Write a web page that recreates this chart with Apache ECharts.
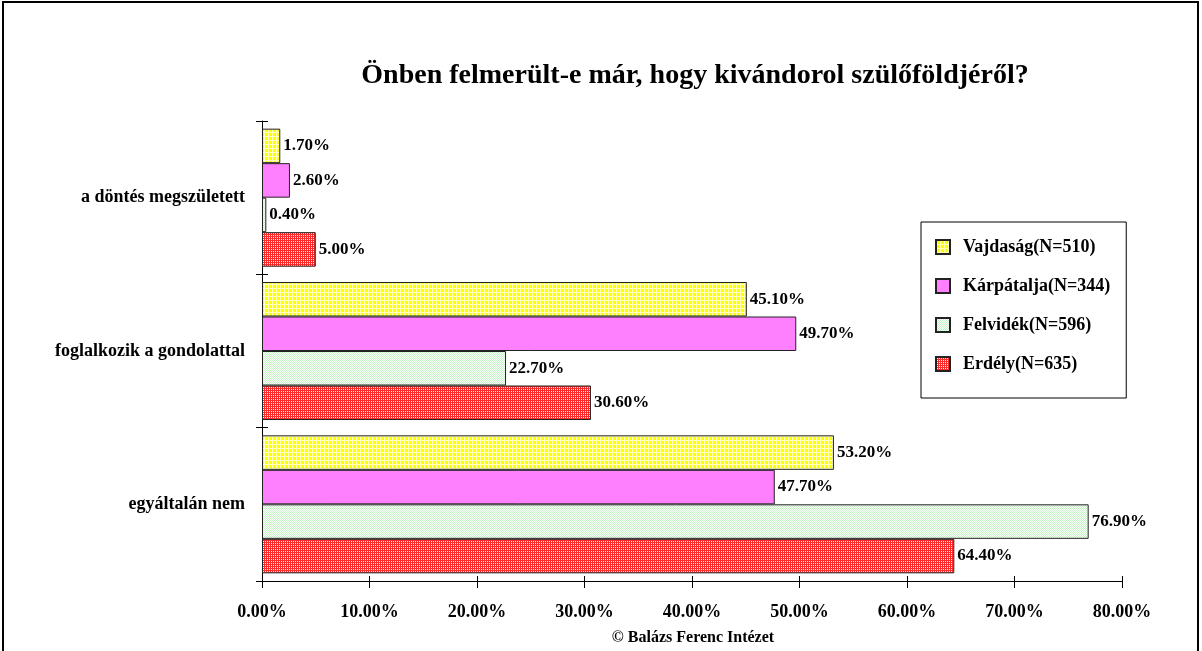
<!DOCTYPE html>
<html>
<head>
<meta charset="utf-8">
<script src="https://cdn.jsdelivr.net/npm/echarts@6/dist/echarts.min.js"></script>
<style>
  html, body { margin: 0; padding: 0; background: #fff; }
  #chart { width: 1202px; height: 651px; }
</style>
</head>
<body>
<div id="chart"></div>
<script>
// kategóriák (alulról felfelé)
var categories = ['egyáltalán nem', 'foglalkozik a gondolattal', 'a döntés megszületett'];
// sorozatok (a csoporton belül fentről lefelé)
var seriesNames = ['Vajdaság(N=510)', 'Kárpátalja(N=344)', 'Felvidék(N=596)', 'Erdély(N=635)'];
var vajdasag = [53.2, 45.1, 1.7];
var karpatalja = [47.7, 49.7, 2.6];
var felvidek = [76.9, 22.7, 0.4];
var erdely = [64.4, 30.6, 5.0];
var xTicks = [0, 10, 20, 30, 40, 50, 60, 70, 80];

var FONT = '"Liberation Serif", "Times New Roman", serif';

// minták
function pattern(size, bg, fg, pixels) {
	var c = document.createElement('canvas');
	c.width = size;
	c.height = size;
	var ctx = c.getContext('2d');
	ctx.fillStyle = bg;
	ctx.fillRect(0, 0, size, size);
	ctx.fillStyle = fg;
	pixels.forEach(function (p) { ctx.fillRect(p[0], p[1], p[2] || 1, p[3] || 1); });
	return { image: c, repeat: 'repeat' };
}

var yellowPat = pattern(4, '#ffff00', '#ffffc0', [[0, 0, 4, 1], [0, 0, 1, 4]]);
var greenPat = pattern(2, '#ffffff', '#c4f4c4', [[0, 0], [1, 1]]);
var redPat = pattern(4, '#ff2a2a', '#ffffff', [[1, 1], [3, 3], [1, 3], [3, 1]]);
var colors = [yellowPat, '#ff80ff', greenPat, redPat];
var dataSets = [vajdasag, karpatalja, felvidek, erdely];

var chart = echarts.init(document.getElementById('chart'));

var series = seriesNames.map(function (name, i) {
	return {
		name: name,
		type: 'bar',
		xAxisIndex: 0,
		yAxisIndex: 0,
		data: dataSets[i],
		barGap: '0%',
		barCategoryGap: '10%',
		itemStyle: {
			color: colors[i],
			borderColor: '#222',
			borderWidth: 1
		},
		label: {
			show: true,
			position: 'right',
			distance: 3,
			color: '#000',
			fontFamily: FONT,
			fontWeight: 'bold',
			fontSize: 17,
			formatter: function (p) { return p.value.toFixed(2) + '%'; }
		}
	};
});

var axisText = { color: '#000', fontFamily: FONT, fontWeight: 'bold', fontSize: 18 };

chart.setOption({
	animation: false,
	backgroundColor: '#fff',
	grid: { left: 262, right: 80, top: 121, bottom: 70, containLabel: false },
	legend: {
		orient: 'vertical',
		left: 921,
		top: 222,
		data: seriesNames,
		icon: 'rect',
		itemWidth: 14,
		itemHeight: 14,
		itemGap: 21,
		padding: [16, 16, 25, 14],
		borderColor: '#000',
		borderWidth: 1,
		textStyle: Object.assign({ padding: [0, 0, 0, 8] }, axisText)
	},
	xAxis: [{
		type: 'value',
		min: xTicks[0],
		max: xTicks[xTicks.length - 1],
		interval: xTicks[1] - xTicks[0],
		axisLine: { show: true, lineStyle: { color: '#000', width: 1 } },
		axisTick: { show: true, length: 7, lineStyle: { color: '#000' } },
		splitLine: { show: false },
		axisLabel: Object.assign({ margin: 22, formatter: function (v) { return v.toFixed(2) + '%'; } }, axisText)
	}, {
		type: 'value',
		position: 'bottom',
		min: xTicks[0],
		max: xTicks[xTicks.length - 1],
		interval: xTicks[1] - xTicks[0],
		axisLine: { show: false },
		axisTick: { show: true, inside: true, length: 5, lineStyle: { color: '#000' } },
		splitLine: { show: false },
		axisLabel: { show: false }
	}],
	yAxis: [{
		type: 'category',
		data: categories,
		axisLine: { show: true, lineStyle: { color: '#000', width: 1 } },
		axisTick: { show: true, length: 6, lineStyle: { color: '#000' } },
		axisLabel: Object.assign({ margin: 17 }, axisText)
	}, {
		type: 'category',
		position: 'left',
		data: categories,
		axisLine: { show: false },
		axisTick: { show: true, inside: true, length: 6, lineStyle: { color: '#000' } },
		axisLabel: { show: false }
	}],
	series: series,
	graphic: [
		{
			type: 'rect',
			shape: { x: 3, y: 2, width: 1195, height: 700 },
			style: { fill: 'none', stroke: '#000', lineWidth: 2 },
			silent: true
		},
		{
			type: 'text',
			x: 695,
			y: 76,
			style: {
				text: 'Önben felmerült-e már, hogy kivándorol szülőföldjéről?',
				fontFamily: FONT,
				fontWeight: 'bold',
				fontSize: 28,
				fill: '#000',
				textAlign: 'center',
				textVerticalAlign: 'middle'
			}
		},
		{
			type: 'text',
			x: 693,
			y: 638,
			style: {
				text: '© Balázs Ferenc Intézet',
				fontFamily: FONT,
				fontWeight: 'bold',
				fontSize: 16,
				fill: '#000',
				textAlign: 'center',
				textVerticalAlign: 'middle'
			}
		}
	]
});
</script>
</body>
</html>
